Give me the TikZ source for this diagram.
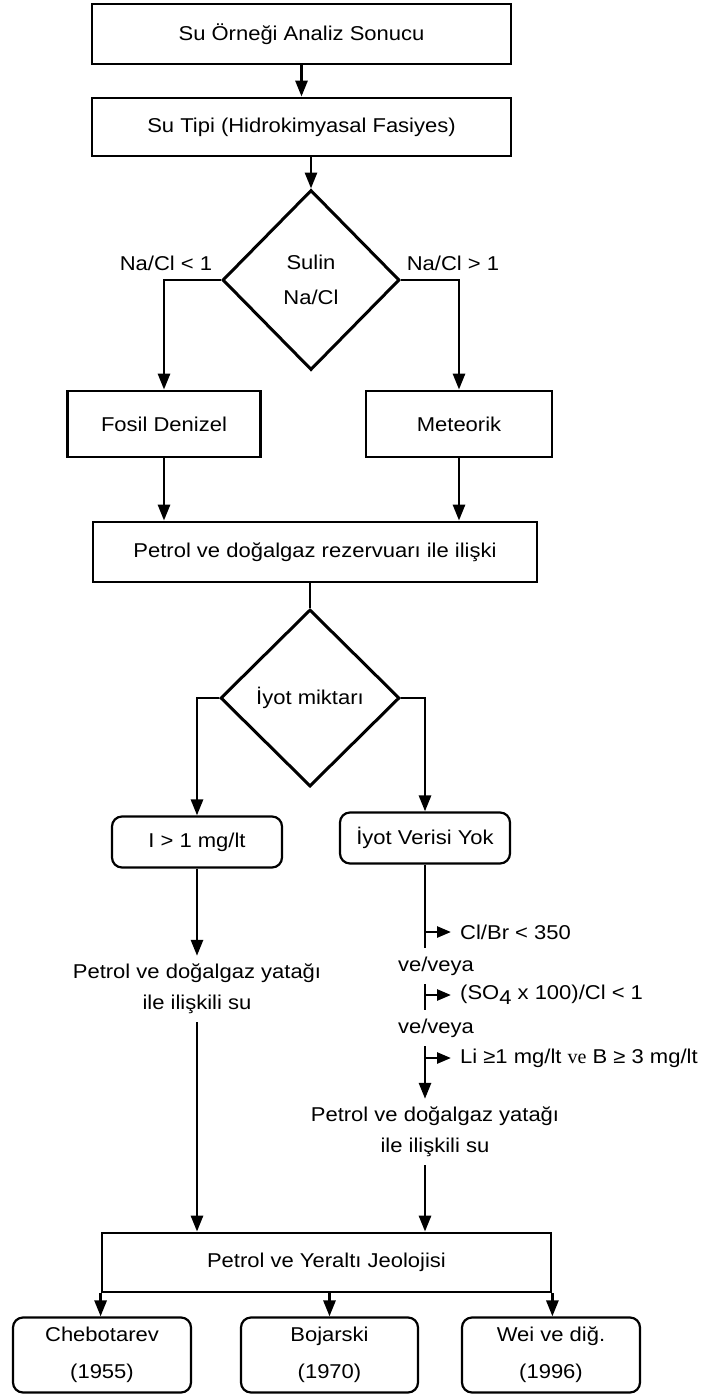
\documentclass[tikz,border=0pt]{standalone}
\usepackage{fontspec}
\setmainfont{Liberation Sans}[FakeStretch=1.1]
\newfontfamily\vefont{Liberation Serif}
\usetikzlibrary{arrows.meta,shapes.geometric}
\begin{document}
\begin{tikzpicture}[x=1pt, y=-1pt, font=\fontsize{20}{31}\selectfont,
	kutu/.style={draw, line width=2.8pt, inner sep=0pt, align=center},
	yuvarlak/.style={draw, line width=2.2pt, rounded corners=10pt, inner sep=0pt, align=center},
	karar/.style={draw, diamond, line width=3pt, inner sep=0pt, align=center},
	yazi/.style={inner xsep=1pt, inner ysep=8pt, align=center},
	etiket/.style={anchor=west, inner xsep=9pt, inner ysep=2pt},
	ok/.style={line width=2.8pt, -{Triangle[length=16pt,width=12pt]}},
	cizgi/.style={line width=2.8pt},
	kisaok/.style={line width=2.6pt, -{Triangle[length=14pt,width=11pt]}}]
	\pgfmathsetmacro{\genis}{419}
	\pgfmathsetmacro{\yuk}{59}
\useasboundingbox (0,0) rectangle (719,1394);
% kutular
\node[kutu, minimum width=\genis pt, minimum height=60pt] (sonuc) at (301.5,34) {Su Örneği Analiz Sonucu};
\node[kutu, minimum width=\genis pt, minimum height=58pt] (tip) at (301.5,127) {Su Tipi (Hidrokimyasal Fasiyes)};
\node[karar, minimum width=177pt, minimum height=180pt] (sulin) at (311,280) {Sulin\\[4pt]Na/Cl};
\node (kucuk) at (166,263) {Na/Cl < 1};
\node (buyuk) at (453,263) {Na/Cl > 1};
\node[kutu, minimum width=193pt, minimum height=66pt] (fosil) at (164,424) {Fosil Denizel};
\node[kutu, minimum width=186pt, minimum height=66pt] (meteorik) at (459,424) {Meteorik};
\node[kutu, minimum width=444pt, minimum height=60pt] (rezervuar) at (315,552) {Petrol ve doğalgaz rezervuarı ile ilişki};
\node[karar, minimum width=179pt, minimum height=177pt] (iyot) at (310,698) {İyot miktarı};
\node[yuvarlak, minimum width=170pt, minimum height=51pt] (bir) at (197,842) {I > 1 mg/lt};
\node[yuvarlak, minimum width=170pt, minimum height=51pt] (yok) at (425,838) {İyot Verisi Yok};
\node[yazi] (sol) at (197,989) {Petrol ve doğalgaz yatağı\\ile ilişkili su};
\node[etiket] (clbr) at (451,932) {Cl/Br < 350};
\node[etiket] (so4) at (451,995) {(SO\raisebox{-5pt}{4} x 100)/Cl < 1};
\node[etiket] (li) at (451,1058) {Li ≥1 mg/lt {\vefont ve} B ≥ 3 mg/lt};
\node[yazi] (sag) at (435,1132) {Petrol ve doğalgaz yatağı\\ile ilişkili su};
\node[kutu, minimum width=449pt, minimum height=\yuk pt] (alt) at (326.5,1262.5) {Petrol ve Yeraltı Jeolojisi};
\node[yuvarlak, minimum width=178pt, minimum height=75pt] (cheb) at (102,1355) {Chebotarev\\[6pt](1955)};
\node[yuvarlak, minimum width=177pt, minimum height=75pt] (boj) at (329.5,1355) {Bojarski\\[6pt](1970)};
\node[yuvarlak, minimum width=178pt, minimum height=75pt] (wei) at (551,1355) {Wei ve diğ.\\[6pt](1996)};
% oklar
\draw[ok] (sonuc) -- (tip);
\draw[ok] (tip.south -| sulin.north) -- (sulin.north);
\draw[ok] (sulin.west) -| (fosil.north);
\draw[ok] (sulin.east) -| (meteorik.north);
\draw[ok] (fosil.south) -- (fosil.south |- rezervuar.north);
\draw[ok] (meteorik.south) -- (meteorik.south |- rezervuar.north);
\draw[cizgi] (rezervuar.south -| iyot.north) -- (iyot.north);
\draw[ok] (iyot.west) -| (bir.north);
\draw[ok] (iyot.east) -| (yok.north);
\draw[ok] (bir) -- (sol);
\draw[ok] (sol) -- (sol |- alt.north);
\draw[ok] (yok.south) -- (yok.south |- sag.north);
\draw[kisaok] (yok.south |- clbr.west) -- (clbr.west);
\draw[kisaok] (yok.south |- so4.west) -- (so4.west);
\draw[kisaok] (yok.south |- li.west) -- (li.west);
\node[yazi, fill=white, inner ysep=9pt] (ve1) at (436,966) {ve/veya};
\node[yazi, fill=white, inner ysep=9pt] (ve2) at (436,1028) {ve/veya};
\draw[ok] (yok.south |- sag.south) -- (yok.south |- alt.north);
\draw[ok] (alt.south west) -- (alt.south west |- cheb.north);
\draw[ok] (boj.north |- alt.south) -- (boj.north);
\draw[ok] (alt.south east) -- (alt.south east |- wei.north);
\end{tikzpicture}
\end{document}
